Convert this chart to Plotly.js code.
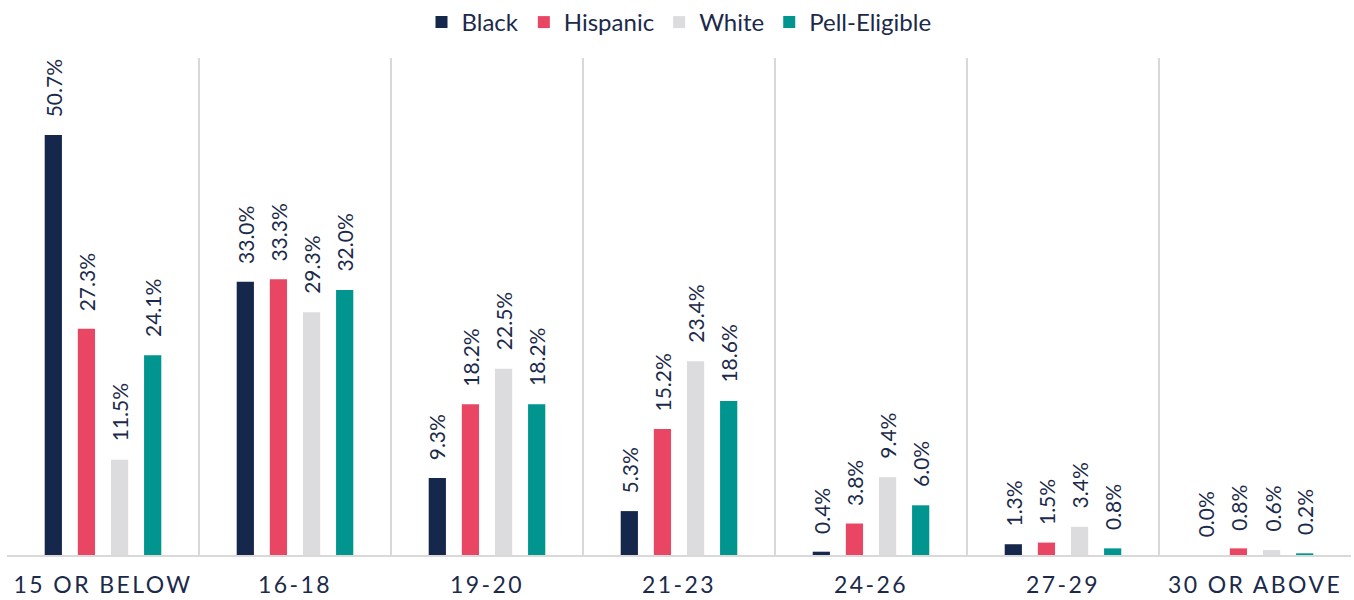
<!DOCTYPE html>
<html>
<head>
<meta charset="utf-8">
<script src="https://cdn.plot.ly/plotly-3.0.1.min.js"></script>
<style>
html,body{margin:0;padding:0;background:#fff;}
#chart{width:1354px;height:600px;}
.xtick text{letter-spacing:2.4px;}
</style>
</head>
<body>
<div id="chart"></div>
<script>
const categories = ["15 OR BELOW", "16-18", "19-20", "21-23", "24-26", "27-29", "30 OR ABOVE"];
const seriesNames = ["Black", "Hispanic", "White", "Pell-Eligible"];
const black = [50.7, 33.0, 9.3, 5.3, 0.4, 1.3, 0.0];
const hispanic = [27.3, 33.3, 18.2, 15.2, 3.8, 1.5, 0.8];
const white = [11.5, 29.3, 22.5, 23.4, 9.4, 3.4, 0.6];
const pell = [24.1, 32.0, 18.2, 18.6, 6.0, 0.8, 0.2];
const colors = ["#15284b", "#e84663", "#dcdcde", "#00958f"];

const seriesValues = [black, hispanic, white, pell];
const textColor = "#1b2a4a";
const fontFam = "Lato, 'Open Sans', sans-serif";

const margin = {l: 7, r: 3, t: 58, b: 45};
const W = 1354, H = 600;
const bargap = 0.31, bargroupgap = 0.48;
const plotW = W - margin.l - margin.r;
const slot = plotW / categories.length * (1 - bargap) / seriesValues.length;

const traces = seriesValues.map((vals, i) => ({
  type: "bar",
  name: seriesNames[i],
  x: categories,
  y: vals,
  marker: {color: colors[i]},
  hoverinfo: "x+y+name"
}));

const annotations = [];
seriesValues.forEach((vals, i) => {
  vals.forEach((v, j) => {
    annotations.push({
      x: categories[j], y: v, xref: "x", yref: "y",
      text: v.toFixed(1) + "%",
      textangle: -90,
      showarrow: false,
      xanchor: "center", yanchor: "bottom",
      xshift: (i - (seriesValues.length - 1) / 2) * slot,
      yshift: 16,
      font: {family: fontFam, size: 21, color: textColor}
    });
  });
});

const layout = {
  width: W, height: H,
  margin: margin,
  paper_bgcolor: "#fff", plot_bgcolor: "#fff",
  barmode: "group",
  bargap: bargap, bargroupgap: bargroupgap,
  font: {family: fontFam, color: textColor},
  showlegend: true,
  legend: {
    orientation: "h", x: 0.5, xanchor: "center",
    yref: "container", y: 1, yanchor: "top",
    font: {family: fontFam, size: 24, color: textColor},
    itemclick: false
  },
  xaxis: {
    type: "category",
    automargin: false,
    tickson: "boundaries",
    showgrid: true, gridcolor: "#d9d9d9", gridwidth: 2,
    showline: true, linecolor: "#d9d9d9", linewidth: 2,
    ticks: "",
    ticklabelstandoff: 8,
    tickfont: {family: fontFam, size: 23, color: textColor},
    fixedrange: true
  },
  yaxis: {
    range: [0, 60],
    automargin: false,
    showgrid: false, zeroline: false, showticklabels: false, showline: false,
    fixedrange: true
  },
  annotations: annotations
};

Plotly.newPlot("chart", traces, layout, {displayModeBar: false, staticPlot: true});
</script>
</body>
</html>
